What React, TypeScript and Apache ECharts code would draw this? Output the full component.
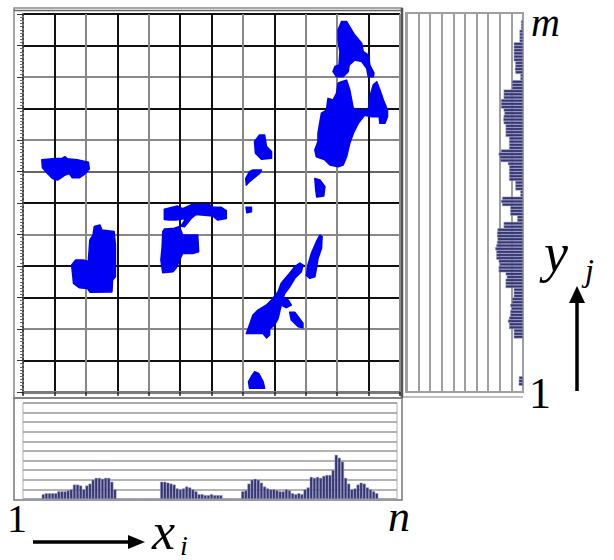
import React, { useEffect, useRef } from "react";
import * as echarts from "echarts";

// Blob outlines in data space of the main plot (x: 0..120, y: 0..120, one grid cell = 10)
const blobs: [number, number][][] = [
  [[6.0,73.7],[9.4,74.0],[12.5,74.2],[13.4,74.7],[14.1,74.0],[17.3,73.7],[20.8,72.9],[21.1,70.8],[19.5,69.1],[17.9,68.0],[15.7,68.0],[14.7,69.4],[13.1,68.7],[11.0,67.3],[9.4,67.8],[7.8,69.4],[6.2,71.2]],
  [[22.7,52.5],[24.5,53.0],[25.1,51.4],[29.0,50.9],[29.4,46.7],[29.4,36.6],[28.5,35.6],[28.3,31.8],[21.3,31.7],[20.5,32.9],[17.9,33.1],[16.1,34.5],[15.5,40.3],[16.8,41.9],[19.2,41.9],[20.8,41.4],[21.3,48.3],[22.3,49.8]],
  [[45.0,58.0],[49.2,59.0],[50.8,58.2],[53.5,59.4],[59.4,59.6],[59.9,58.6],[63.1,58.6],[64.7,57.6],[64.7,55.1],[62.0,54.6],[60.4,55.9],[55.1,56.4],[53.5,55.1],[51.4,52.5],[50.3,52.7],[51.9,55.1],[48.7,54.6],[46.6,54.6],[45.0,54.8]],
  [[45.0,51.7],[48.2,52.0],[49.8,52.5],[50.8,49.8],[55.6,49.8],[55.9,44.5],[54.0,44.0],[50.8,44.0],[49.6,41.4],[48.7,39.3],[47.7,38.2],[44.5,37.9],[43.9,41.9],[44.3,46.1],[44.5,50.9]],
  [[75.3,81.6],[76.9,81.6],[77.5,77.9],[79.1,76.3],[79.1,74.2],[75.9,73.9],[74.0,75.8],[73.7,79.5]],
  [[73.2,70.5],[75.9,70.5],[75.3,69.4],[72.1,66.8],[71.1,65.7],[70.9,67.8],[72.1,69.9]],
  [[71.0,58.6],[72.7,58.6],[72.7,57.2],[71.3,56.9]],
  [[101.4,117.6],[103.0,117.6],[105.6,113.3],[107.8,110.7],[108.3,108.0],[109.9,107.0],[110.4,103.8],[111.7,101.2],[111.5,100.1],[109.9,100.1],[109.4,102.8],[107.8,104.9],[105.6,105.4],[103.8,103.8],[103.5,101.7],[101.9,100.1],[99.8,100.1],[98.7,101.7],[99.3,103.3],[100.6,103.8],[100.9,108.0],[100.3,111.7],[100.3,114.9]],
  [[101.4,98.5],[103.0,99.0],[104.0,95.9],[104.6,92.7],[105.1,90.1],[107.8,89.5],[109.9,89.5],[110.4,93.7],[111.5,97.5],[112.6,98.5],[113.6,95.9],[114.7,92.7],[116.0,89.5],[116.0,87.4],[115.2,85.3],[113.6,85.3],[113.4,87.4],[111.0,87.4],[108.8,87.9],[106.7,85.3],[105.1,82.1],[104.0,79.0],[103.0,74.7],[101.9,72.1],[100.3,71.5],[97.7,72.1],[96.1,73.7],[93.4,74.7],[92.9,76.8],[93.9,79.5],[93.9,82.1],[95.0,88.5],[96.6,89.5],[97.1,93.2],[98.7,92.7],[99.8,94.8],[100.3,98.0]],
  [[92.9,67.8],[94.5,67.3],[96.1,65.2],[95.7,62.2],[93.5,61.9],[93.2,64.1]],
  [[94.5,49.8],[95.2,49.3],[95.0,45.6],[93.9,42.4],[93.4,39.3],[92.9,36.6],[91.3,36.1],[90.2,37.1],[90.7,40.3],[91.8,44.0],[93.4,47.7]],
  [[88.1,40.9],[89.1,40.3],[88.6,38.2],[86.5,36.1],[84.9,33.4],[83.3,31.3],[82.8,29.9],[84.4,29.2],[85.4,27.6],[83.8,26.8],[82.2,27.6],[81.7,25.5],[81.2,23.4],[80.1,21.3],[78.5,20.0],[78.5,18.1],[77.5,17.2],[76.4,18.6],[73.2,18.6],[71.1,18.6],[72.1,21.3],[73.2,24.4],[74.8,26.0],[77.5,27.6],[79.1,29.2],[81.2,31.8],[82.2,34.5],[84.4,37.1],[86.5,39.8]],
  [[84.9,25.3],[86.5,25.3],[89.1,21.8],[89.1,20.4],[87.6,20.7],[85.4,22.9]],
  [[73.7,6.4],[75.0,5.9],[76.4,3.3],[76.9,1.2],[72.1,1.2],[71.8,3.3],[72.7,4.9]],
];

// Column sums (bottom histogram), one value per x bin, left to right
const xProfile = [
  0, 0, 0, 0, 0, 0, 0.5, 0.6, 0.6, 0.6,
  0.6, 0.8, 0.8, 0.8, 0.9, 1.0, 1.5, 1.5, 1.4, 1.0,
  1.4, 1.6, 2.0, 2.2, 2.2, 2.1, 2.2, 2.2, 1.8, 1.0,
  0, 0, 0, 0, 0, 0, 0, 0, 0, 0,
  0, 0, 0, 0, 1.8, 1.8, 1.7, 1.6, 1.5, 1.1,
  1.0, 1.1, 1.3, 1.2, 1.0, 0.8, 0.5, 0.5, 0.4, 0.4,
  0.5, 0.4, 0.4, 0.4, 0, 0, 0, 0, 0, 0,
  0.8, 0.9, 1.6, 2.0, 2.1, 2.0, 1.7, 1.3, 1.1, 1.0,
  1.0, 0.9, 0.8, 0.8, 1.0, 0.9, 0.6, 0.5, 0.6, 0.5,
  1.0, 1.2, 2.3, 2.2, 2.3, 2.2, 2.4, 2.5, 2.5, 3.0,
  4.6, 4.3, 3.9, 2.2, 1.6, 1.0, 1.1, 1.5, 1.7, 1.6,
  1.2, 1.0, 0.8, 0.6, 0, 0, 0, 0, 0, 0,
];

// Row sums (right histogram), one value per y bin, bottom to top
const yProfile = [
  0, 0, 0.37, 0.37, 0.35, 0, 0, 0, 0, 0,
  0, 0, 0, 0, 0, 0, 0, 0.8, 0.8, 0.8,
  1.2, 1.2, 1.3, 1.2, 1.1, 1.1, 1.0, 1.1, 0.95, 0.95,
  0.8, 0.8, 0.8, 1.5, 1.5, 1.5, 1.4, 1.5, 2.1, 2.1,
  2.0, 2.1, 2.3, 2.3, 2.3, 2.4, 2.3, 2.24, 2.2, 2.24,
  2.24, 2.2, 1.67, 1.67, 0.5, 0.5, 1.1, 1.1, 1.1, 1.8,
  1.9, 1.8, 0.23, 0.23, 0.66, 0.66, 0.66, 1.2, 1.2, 1.2,
  1.2, 1.2, 1.3, 1.95, 2.0, 2.1, 1.9, 1.2, 1.2, 1.2,
  1.2, 1.5, 1.5, 1.5, 1.5, 1.67, 1.7, 1.67, 1.6, 1.67,
  1.9, 1.9, 1.9, 1.67, 1.67, 1.67, 0.95, 0.95, 0.95, 0.23,
  0.23, 0.66, 0.7, 0.66, 0.66, 0.8, 0.8, 0.8, 0.8, 0.8,
  0.8, 0.3, 0.3, 0.3, 0.3, 0.17, 0.17, 0.17, 0, 0,
];

const binLabels = xProfile.map((_, i) => String(i + 1));

// Grid line colours, from the first line (axis) to the last
const verticalLineColors = ["transparent", "#111", "#888", "#111", "#888", "#111", "#111", "#888", "#111", "#888", "#888", "#111", "#8a8a8a"];
const horizontalLineColors = ["#8a8a8a", "#111", "#888", "#111", "#111", "#888", "#111", "#666", "#888", "#111", "#888", "#111", "#111"];

const BLUE = "#0000f4";
const BAR = "#35356f";
const SERIF = "'Liberation Serif', 'DejaVu Serif', serif";

const label = (text: string, x: number, y: number, size: number, italic: boolean) => ({
  type: "text",
  x,
  y,
  style: {
    text,
    fontFamily: SERIF,
    fontStyle: italic ? "italic" : "normal",
    fontSize: size,
    lineHeight: Math.round(size * 0.5),
    fill: "#000",
    verticalAlign: "middle",
  },
});

export default function App() {
  const ref = useRef<HTMLDivElement>(null);

  useEffect(() => {
    if (!ref.current) return;
    const chart = echarts.init(ref.current, undefined, { renderer: "svg" });
    const hidden = { axisLabel: { show: false }, axisTick: { show: false }, axisLine: { show: false } };

    chart.setOption({
      animation: false,
      backgroundColor: "#fff",
      grid: [
        { left: 23, top: 14, width: 377, height: 378 },
        { left: 23, top: 403, width: 374, height: 96 },
        { left: 407, top: 14, width: 116, height: 378 },
      ],
      xAxis: [
        {
          type: "value", gridIndex: 0, min: 0, max: 120, interval: 10,
          axisLabel: { show: false },
          axisLine: { show: true, onZero: false, lineStyle: { color: "#7a7a7a", width: 3 } },
          axisTick: { show: true, length: 4, lineStyle: { color: "#222", width: 1.5 } },
          splitLine: { show: true, lineStyle: { color: verticalLineColors, width: 2 } },
        },
        {
          type: "category", gridIndex: 1, data: binLabels, boundaryGap: true, ...hidden,
          splitLine: { show: false },
        },
        {
          type: "value", gridIndex: 2, min: 0, max: 10, interval: 1, inverse: true, ...hidden,
          splitLine: { show: true, lineStyle: { color: "#a0a0a0", width: 2 } },
        },
      ],
      yAxis: [
        {
          type: "value", gridIndex: 0, min: 0, max: 120, interval: 10,
          axisLabel: { show: false },
          axisLine: { show: true, onZero: false, lineStyle: { color: "#444", width: 2, type: "dotted" } },
          axisTick: { show: true, length: 6, lineStyle: { color: "#333" } },
          minorTick: { show: true, splitNumber: 10, length: 3, lineStyle: { color: "#666" } },
          splitLine: { show: true, lineStyle: { color: horizontalLineColors, width: 2 } },
        },
        {
          type: "value", gridIndex: 1, min: 0, max: 10, interval: 1, ...hidden,
          splitLine: { show: true, lineStyle: { color: "#9a9a9a", width: 1.5 } },
        },
        {
          type: "category", gridIndex: 2, data: binLabels, boundaryGap: true, ...hidden,
          splitLine: { show: false },
        },
      ],
      series: [
        {
          type: "custom",
          xAxisIndex: 0,
          yAxisIndex: 0,
          data: blobs.map((b) => [b[0][0], b[0][1]]),
          renderItem: (params: any, api: any) => {
            const pts = blobs[params.dataIndex].map((p) => api.coord(p));
            return {
              type: "polygon",
              shape: { points: pts },
              style: { fill: BLUE, stroke: BLUE, lineWidth: 1.6, lineJoin: "round" },
            };
          },
          z: 5,
        },
        {
          type: "bar",
          xAxisIndex: 1,
          yAxisIndex: 1,
          data: xProfile,
          barCategoryGap: "0%",
          itemStyle: { color: BAR, borderColor: "#9a9acc", borderWidth: 0.5 },
        },
        {
          type: "bar",
          xAxisIndex: 2,
          yAxisIndex: 2,
          data: yProfile,
          barCategoryGap: "0%",
          itemStyle: { color: BAR, borderColor: "#9a9acc", borderWidth: 0.5 },
        },
      ],
      graphic: [
        // frames
        { type: "rect", shape: { x: 14, y: 8, width: 388, height: 390 }, style: { fill: "none", stroke: "#8a8a8a", lineWidth: 1.5 } },
        { type: "line", shape: { x1: 14, y1: 10.5, x2: 402, y2: 10.5 }, style: { stroke: "#666", lineWidth: 1.5 } },
        { type: "line", shape: { x1: 402, y1: 8, x2: 402, y2: 398 }, style: { stroke: "#555", lineWidth: 2.5 } },
        { type: "rect", shape: { x: 14, y: 398, width: 388, height: 102 }, style: { fill: "none", stroke: "#777", lineWidth: 1.5 } },
        { type: "rect", shape: { x: 23, y: 403, width: 374, height: 96 }, style: { fill: "none", stroke: "#b0b0b0", lineWidth: 1 } },
        { type: "rect", shape: { x: 406, y: 13, width: 117, height: 379 }, style: { fill: "none", stroke: "#a0a0a0", lineWidth: 2 } },
        { type: "line", shape: { x1: 403, y1: 397, x2: 523, y2: 397 }, style: { stroke: "#aaa", lineWidth: 1.5 } },
        // arrows
        { type: "line", shape: { x1: 33, y1: 542, x2: 132, y2: 542 }, style: { stroke: "#000", lineWidth: 3.5 } },
        { type: "polygon", shape: { points: [[128, 535], [145, 542], [128, 549]] }, style: { fill: "#000" } },
        { type: "line", shape: { x1: 577, y1: 391, x2: 577, y2: 300 }, style: { stroke: "#000", lineWidth: 3.5 } },
        { type: "polygon", shape: { points: [[569, 303], [577, 286], [585, 303]] }, style: { fill: "#000" } },
        // labels
        label("m", 531, 22.5, 40, true),
        label("1", 529, 393, 44, false),
        label("1", 7, 518, 40, false),
        label("n", 388, 516, 44, true),
        label("x", 152, 531, 52, true),
        label("i", 180, 545, 28, true),
        label("y", 544, 253, 54, true),
        label("j", 585, 270, 32, true),
      ],
    });

    return () => chart.dispose();
  }, []);

  return <div ref={ref} style={{ width: 614, height: 560, position: "absolute", left: 0, top: 0 }} />;
}
